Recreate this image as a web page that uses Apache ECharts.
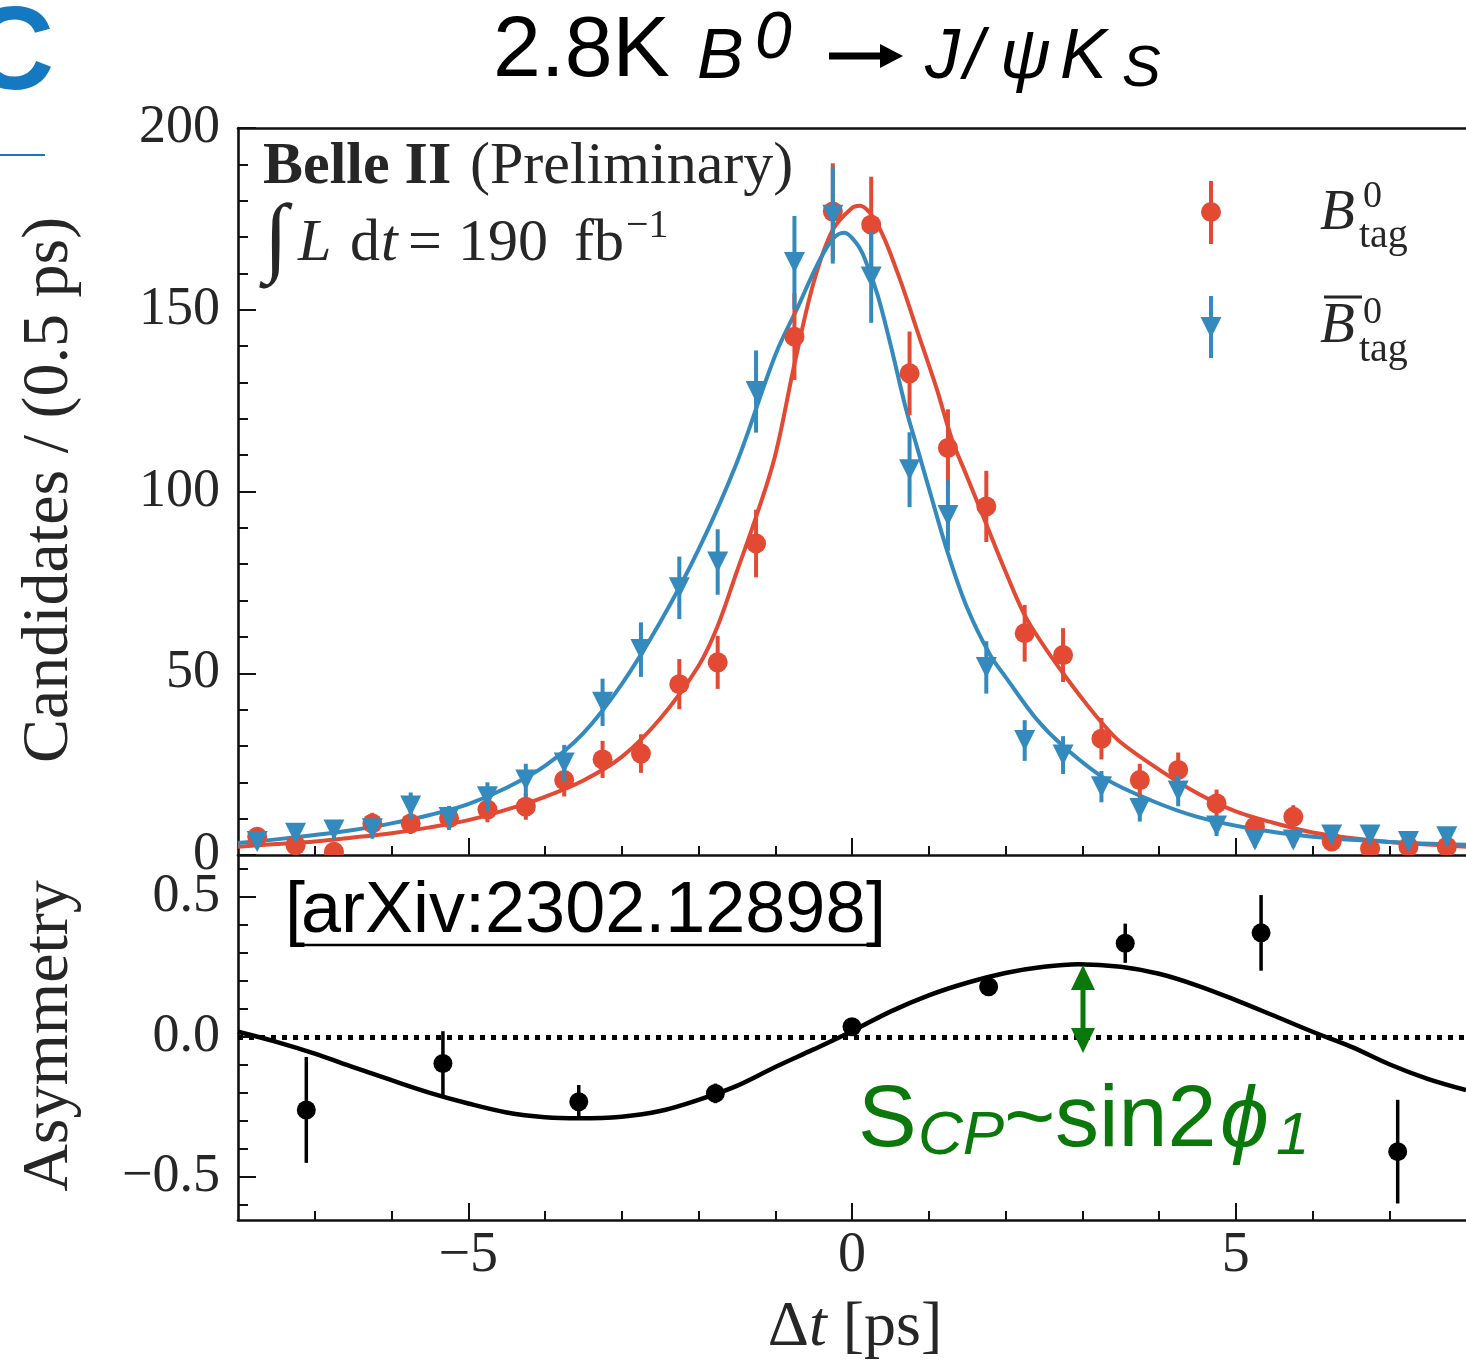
<!DOCTYPE html>
<html><head><meta charset="utf-8">
<script src="https://cdn.jsdelivr.net/npm/echarts@6/dist/echarts.min.js"></script>
<style>html,body{margin:0;padding:0;background:#fff}#c{width:1466px;height:1362px}</style>
</head><body><div id="c"></div>
<script>
// ---------------- data ----------------
const binT = [-7.75,-7.25,-6.75,-6.25,-5.75,-5.25,-4.75,-4.25,-3.75,-3.25,-2.75,-2.25,-1.75,-1.25,-0.75,-0.25,
              0.25,0.75,1.25,1.75,2.25,2.75,3.25,3.75,4.25,4.75,5.25,5.75,6.25,6.75,7.25,7.75];
const redCounts = [5.0,2.7,0.9,8.7,8.7,10.1,12.5,13.3,20.6,26.3,27.9,47.0,53.0,85.7,142.6,177.0,
                   173.4,132.5,112.0,95.9,61.0,55.0,32.0,20.6,23.4,14.2,7.8,10.5,3.7,1.8,2.3,2.3];
const redErr = [2.2,1.6,1.0,2.9,2.9,3.2,3.5,3.6,4.5,5.1,5.3,6.9,7.3,9.3,11.9,13.3,
                13.2,11.5,10.6,9.8,7.8,7.4,5.7,4.5,4.8,3.8,2.8,3.2,1.9,1.3,1.5,1.5];
const blueCounts = [3.7,6.0,6.9,7.2,13.5,10.3,16.0,20.6,25.3,42.0,56.5,73.5,80.6,127.5,163.0,176.0,
                    159.0,106.0,93.4,51.6,31.5,27.5,18.8,12.8,17.6,8.0,4.1,4.1,5.5,5.5,3.7,5.0];
const blueErr = [1.9,2.4,2.6,2.7,3.7,3.2,4.0,4.5,5.0,6.5,7.5,8.6,9.0,11.3,12.8,13.3,
                 12.6,10.3,9.7,7.2,5.6,5.2,4.3,3.6,4.2,2.8,2.0,2.0,2.3,2.3,1.9,2.2];

const redFitT = [-8,-7.5,-7,-6.5,-6,-5.5,-5,-4.5,-4,-3.5,-3,-2.5,-2,-1.75,-1.5,-1.25,-1,-0.75,-0.5,-0.25,0,0.1,
                 0.33,0.6,0.85,1.1,1.3,1.5,1.75,2,2.25,2.5,2.75,3,3.25,3.5,4,4.5,5,5.5,6,6.5,7,7.5,8];
const redFitV = [2.3,3.0,3.7,4.8,6.0,7.6,9.6,12.5,16.0,20.5,27,37.5,52,63,78,93,110,135,157.5,172,178,178.6,
                 173.5,159.8,144.2,128.5,114.5,104,91,78,66,57.5,50,43,36.5,31,23.5,17,12,8.8,6.2,4.7,3.6,2.9,2.3];
const blueFitT = [-8,-7.5,-7,-6.5,-6,-5.5,-5,-4.5,-4,-3.5,-3,-2.5,-2,-1.5,-1,-0.7,-0.45,-0.25,-0.1,0.05,0.16,
                  0.33,0.5,0.7,0.85,1,1.25,1.5,1.8,2,2.4,2.75,3.3,3.9,4.5,5.2,6,7,8];
const blueFitV = [3.3,4.3,5.5,6.9,8.7,11,14,18.5,24.5,33.5,47,64,84,108,137.5,151,162.5,169.5,171.2,168.5,164.4,
                  154.3,140.6,123,112,101,83,68,55,49,37.5,30,21,15,10.5,7.3,5.0,3.6,2.8];

const asymT = [-7.11,-5.33,-3.56,-1.78,0,1.78,3.56,5.33,7.11];
const asymV = [-0.261,-0.095,-0.232,-0.202,0.036,0.179,0.334,0.371,-0.41];
const asymErr = [0.189,0.115,0.06,0.035,0.02,0.025,0.07,0.135,0.185];
const asymFitT = [-8,-7.5,-7,-6.5,-6,-5.5,-5,-4.5,-4,-3.55,-3,-2.5,-2,-1.5,-1,-0.5,0,
                  0.5,1,1.5,2,2.5,2.95,3.5,4,4.5,5,5.5,6,6.5,7,7.5,8];
const asymFitV = [0.018,-0.018,-0.06,-0.108,-0.155,-0.2,-0.238,-0.27,-0.287,-0.291,-0.285,-0.265,-0.225,-0.175,-0.108,-0.045,0.02,
                  0.09,0.148,0.193,0.228,0.25,0.259,0.25,0.225,0.183,0.131,0.075,0.018,-0.035,-0.098,-0.15,-0.19];

const xMajorTicks = [-5,0,5];
const xMinorTicks = [-7,-6,-4,-3,-2,-1,1,2,3,4,6,7];
const asymMajorTicks = [-0.5,0,0.5];
const asymMinorTicks = [-0.6,-0.4,-0.3,-0.2,-0.1,0.1,0.2,0.3,0.4,0.6];

// ---------------- styling ----------------
const RED = '#E24A33', BLUE = '#348ABD', INK = '#262626', GREEN = '#0a780a';
const SERIF = '"Liberation Serif","Times New Roman",serif';
const SANS = '"Liberation Sans",Helvetica,Arial,sans-serif';
const minus = v => String(v).replace('-', '\u2212');

function T(x, baseline, text, size, o = {}) {
  return {type:'text', x, y: baseline - 0.34*size, z: 100, rotation: o.rot || 0,
    style:{text, fill: o.color || INK, fontSize: size, fontFamily: o.family || SERIF,
      fontStyle: o.italic ? 'italic' : 'normal', fontWeight: o.weight || 'normal',
      align: o.align || 'left', verticalAlign:'middle'}};
}

const axisLineStyle = {color:'#111', width:2.6};

function errSeries(xs, ys, es, color, shape, xi, yi, size, barW, z) {
  return {
    type:'custom', xAxisIndex:xi, yAxisIndex:yi, clip:true, z,
    data: xs.map((x,i)=>[x, ys[i], es[i]]),
    encode:{x:0, y:1},
    renderItem(params, api) {
      const x = api.value(0), y = api.value(1), e = api.value(2);
      const p = api.coord([x,y]), lo = api.coord([x,y-e]), hi = api.coord([x,y+e]);
      const ch = [{type:'line', shape:{x1:p[0], y1:lo[1], x2:p[0], y2:hi[1]}, style:{stroke:color, lineWidth:barW}}];
      if (shape === 'circle') ch.push({type:'circle', shape:{cx:p[0], cy:p[1], r:size}, style:{fill:color}});
      else ch.push({type:'polygon', shape:{points:[[p[0]-size, p[1]-size],[p[0]+size, p[1]-size],[p[0], p[1]+size]]}, style:{fill:color}});
      return {type:'group', children:ch};
    }
  };
}
function fitSeries(ts, vs, color, xi, yi, w, z) {
  return {type:'line', xAxisIndex:xi, yAxisIndex:yi, data: ts.map((t,i)=>[t, vs[i]]), showSymbol:false,
          smooth:0.35, clip:true, lineStyle:{color, width:w}, itemStyle:{color}, z, silent:true};
}

const G0 = {left:238, top:128, width:1232, height:727};
const G1 = {left:238, top:855, width:1232, height:365};

const option = {
  animation:false,
  backgroundColor:'#fff',
  grid:[G0, G1],
  xAxis:[
    {gridIndex:0, type:'value', min:-8, max:8, position:'bottom',
     axisLine:{show:true, onZero:false, lineStyle:axisLineStyle},
     axisTick:{show:true, inside:true, length:17, customValues:xMajorTicks, lineStyle:{color:'#111', width:2}},
     axisLabel:{show:false}, splitLine:{show:false}},
    {gridIndex:0, type:'value', min:-8, max:8, position:'bottom',
     axisLine:{show:false, onZero:false},
     axisTick:{show:true, inside:true, length:9, customValues:xMinorTicks, lineStyle:{color:'#111', width:2}},
     axisLabel:{show:false}, splitLine:{show:false}},
    {gridIndex:0, type:'value', min:-8, max:8, position:'top',
     axisLine:{show:true, onZero:false, lineStyle:axisLineStyle},
     axisTick:{show:false}, axisLabel:{show:false}, splitLine:{show:false}},
    {gridIndex:1, type:'value', min:-8, max:8, position:'bottom',
     axisLine:{show:true, onZero:false, lineStyle:axisLineStyle},
     axisTick:{show:true, inside:true, length:17, customValues:xMajorTicks, lineStyle:{color:'#111', width:2}},
     axisLabel:{show:true, customValues:xMajorTicks, formatter:v=>minus(v), margin:8,
       fontFamily:SERIF, fontSize:56, color:INK},
     splitLine:{show:false}},
    {gridIndex:1, type:'value', min:-8, max:8, position:'bottom',
     axisLine:{show:false, onZero:false},
     axisTick:{show:true, inside:true, length:9, customValues:xMinorTicks, lineStyle:{color:'#111', width:2}},
     axisLabel:{show:false}, splitLine:{show:false}}
  ],
  yAxis:[
    {gridIndex:0, type:'value', min:0, max:200, interval:50, position:'left',
     axisLine:{show:true, onZero:false, lineStyle:axisLineStyle},
     axisTick:{show:true, inside:true, length:18, lineStyle:{color:'#111', width:2}},
     minorTick:{show:true, splitNumber:5, length:10, lineStyle:{color:'#111', width:2}},
     axisLabel:{show:true, margin:18, fontFamily:SERIF, fontSize:54, color:INK},
     splitLine:{show:false}, minorSplitLine:{show:false}},
    {gridIndex:1, type:'value', min:-0.654, max:0.649, position:'left',
     axisLine:{show:true, onZero:false, lineStyle:axisLineStyle},
     axisTick:{show:true, inside:true, length:18, customValues:asymMajorTicks, lineStyle:{color:'#111', width:2}},
     axisLabel:{show:true, customValues:asymMajorTicks, margin:18, fontFamily:SERIF, fontSize:54, color:INK,
       formatter:v=>minus(Number(v).toFixed(1))},
     splitLine:{show:false}},
    {gridIndex:1, type:'value', min:-0.654, max:0.649, position:'left',
     axisLine:{show:false, onZero:false},
     axisTick:{show:true, inside:true, length:10, customValues:asymMinorTicks, lineStyle:{color:'#111', width:2}},
     axisLabel:{show:false}, splitLine:{show:false}}
  ],
  series:[
    fitSeries(redFitT, redFitV, RED, 0, 0, 4, 3),
    fitSeries(blueFitT, blueFitV, BLUE, 0, 0, 4, 3),
    errSeries(binT, redCounts, redErr, RED, 'circle', 0, 0, 10, 4, 5),
    errSeries(binT, blueCounts, blueErr, BLUE, 'tri', 0, 0, 10.5, 4, 6),
    Object.assign(fitSeries(asymFitT, asymFitV, '#000', 3, 1, 4.5, 4), {
      markLine:{silent:true, symbol:'none', label:{show:false},
        lineStyle:{color:'#000', width:5, type:[5,6]}, data:[{yAxis:0}]}
    }),
    errSeries(asymT, asymV, asymErr, '#000', 'circle', 3, 1, 9.5, 3.5, 6)
  ],
  graphic:[]
};

const gfx = [];
// slide fragments at top left
gfx.push({type:'text', x:-31, y:56, z:100, style:{text:'C', fill:'#1479c0', fontSize:118, fontWeight:'bold',
  fontFamily:SANS, align:'left', verticalAlign:'middle'}});
gfx.push({type:'line', z:100, shape:{x1:0, y1:155, x2:45, y2:155}, style:{stroke:'#1479c0', lineWidth:2}});
// title
const TK = '#000';
gfx.push(T(493, 82, '2.8K', 86, {family:SANS, color:TK}));
gfx.push(T(697, 82, 'B', 70, {family:SANS, italic:true, color:TK}));
gfx.push(T(755, 62, '0', 66, {family:SANS, italic:true, color:TK}));
gfx.push({type:'line', z:100, shape:{x1:829, y1:56, x2:884, y2:56}, style:{stroke:TK, lineWidth:7}});
gfx.push({type:'polygon', z:100, shape:{points:[[880,44],[903,56],[880,68]]}, style:{fill:TK}});
gfx.push(T(925, 82, 'J', 70, {family:SANS, italic:true, color:TK}));
gfx.push(T(964, 82, '/', 70, {family:SANS, italic:true, color:TK}));
gfx.push(T(1000, 82, '\u03c8', 70, {family:SANS, italic:true, color:TK}));
gfx.push(T(1060, 82, 'K', 70, {family:SANS, italic:true, color:TK}));
gfx.push(T(1122, 90, 'S', 58, {family:SANS, italic:true, color:TK}));
// Belle II text
gfx.push(T(263, 188, 'Belle II', 60, {weight:'bold'}));
gfx.push(T(470, 188, '(Preliminary)', 60, {}));
gfx.push(T(264, 272, '\u222b', 88, {}));
gfx.push(T(298, 265, 'L', 60, {italic:true}));
gfx.push(T(350, 265, 'd', 60, {}));
gfx.push(T(381, 265, 't', 60, {italic:true}));
gfx.push(T(408, 265, '=', 60, {}));
gfx.push(T(458, 265, '190', 60, {}));
gfx.push(T(574, 265, 'fb', 60, {}));
gfx.push(T(626, 240, '\u22121', 40, {}));
// legend
gfx.push({type:'line', z:100, shape:{x1:1211, y1:181, x2:1211, y2:244}, style:{stroke:RED, lineWidth:4}});
gfx.push({type:'circle', z:100, shape:{cx:1211, cy:212, r:10}, style:{fill:RED}});
gfx.push({type:'line', z:100, shape:{x1:1211, y1:296, x2:1211, y2:358}, style:{stroke:BLUE, lineWidth:4}});
gfx.push({type:'polygon', z:100, shape:{points:[[1200.5,317],[1221.5,317],[1211,338]]}, style:{fill:BLUE}});
gfx.push(T(1320, 233, 'B', 57, {italic:true}));
gfx.push(T(1363, 210, '0', 38, {}));
gfx.push(T(1359, 250, 'tag', 40, {}));
gfx.push({type:'line', z:100, shape:{x1:1324, y1:297, x2:1362, y2:297}, style:{stroke:INK, lineWidth:3}});
gfx.push(T(1320, 346, 'B', 57, {italic:true}));
gfx.push(T(1363, 326, '0', 38, {}));
gfx.push(T(1359, 364, 'tag', 40, {}));
// axis titles
gfx.push({type:'text', x:50, y:490, z:100, rotation:Math.PI/2, style:{text:'Candidates / (0.5 ps)', fill:INK,
  fontSize:66, fontFamily:SERIF, align:'center', verticalAlign:'middle'}});
gfx.push({type:'text', x:50, y:1036, z:100, rotation:Math.PI/2, style:{text:'Asymmetry', fill:INK,
  fontSize:66, fontFamily:SERIF, align:'center', verticalAlign:'middle'}});
gfx.push({type:'text', x:855, y:1328, z:100, style:{text:'{n|\u0394}{i|t}{n| [ps]}', fill:INK,
  align:'center', verticalAlign:'middle', fontSize:64, fontFamily:SERIF,
  rich:{n:{fontSize:64, fontFamily:SERIF, fill:INK}, i:{fontSize:64, fontFamily:SERIF, fontStyle:'italic', fill:INK}}}});
// arXiv reference
gfx.push(T(285, 937, '[', 72, {family:SANS, color:'#000'}));
gfx.push(T(301, 937, 'arXiv:2302.12898', 72, {family:SANS, color:'#000'}));
gfx.push(T(866, 937, ']', 72, {family:SANS, color:'#000'}));
gfx.push({type:'line', z:100, shape:{x1:300, y1:945, x2:869, y2:945}, style:{stroke:'#000', lineWidth:2.5}});
// green annotation
gfx.push(T(858, 1152, 'S', 88, {family:SANS, color:GREEN}));
gfx.push(T(918, 1158, 'CP', 62, {family:SANS, italic:true, color:GREEN}));
gfx.push(T(1004, 1152, '~', 88, {family:SANS, color:GREEN}));
gfx.push(T(1055, 1152, 'sin2', 88, {family:SANS, color:GREEN}));
gfx.push(T(1220, 1152, '\u03d5', 88, {family:SANS, italic:true, color:GREEN}));
gfx.push(T(1276, 1158, '1', 60, {family:SANS, italic:true, color:GREEN}));
gfx.push({type:'line', z:100, shape:{x1:1083, y1:985, x2:1083, y2:1033}, style:{stroke:GREEN, lineWidth:5}});
gfx.push({type:'polygon', z:100, shape:{points:[[1083,965],[1071,990],[1095,990]]}, style:{fill:GREEN}});
gfx.push({type:'polygon', z:100, shape:{points:[[1083,1053],[1071,1028],[1095,1028]]}, style:{fill:GREEN}});

option.graphic = gfx;
const chart = echarts.init(document.getElementById('c'), null, {width:1466, height:1362});
chart.setOption(option);
</script></body></html>
